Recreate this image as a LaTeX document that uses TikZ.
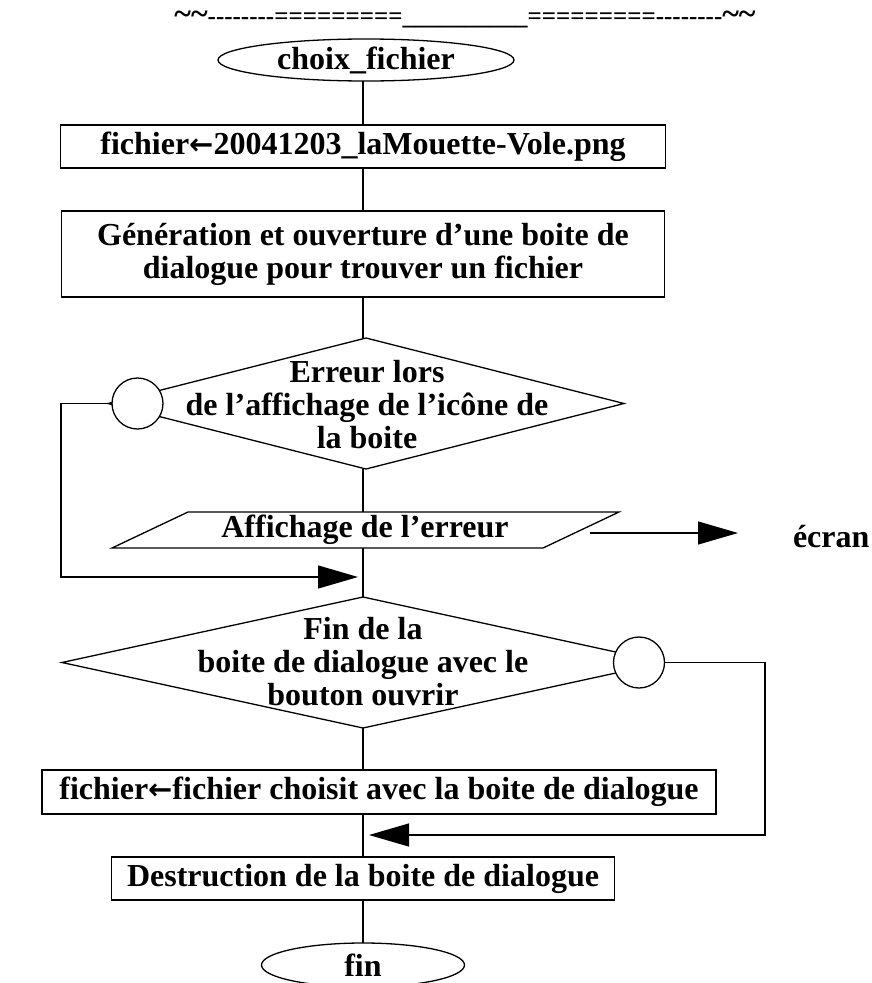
\documentclass[tikz,border=0pt]{standalone}
\usepackage{fontspec}
\setmainfont{Liberation Serif}
\newfontfamily\hdrfont{Liberation Serif}
\newfontfamily\arrfont{DejaVu Sans}
\usetikzlibrary{shapes.geometric,arrows.meta}
\newcommand\myarr{{\arrfont\bfseries\fontsize{29}{29}\selectfont ←}}
\newcommand\bigtilde{{\fontsize{32}{24}\selectfont\textasciitilde}}
\begin{document}
\begin{tikzpicture}[x=1pt,y=-1pt,
  every node/.style={font=\bfseries\fontsize{32}{33}\selectfont, inner sep=0pt, outer sep=0pt},
  ln/.style={line width=1.3pt},
  procbox/.style={draw, rectangle, line width=1.3pt, minimum height=43pt},
  term/.style={draw, ellipse, line width=1.3pt, minimum height=42pt},
  decis/.style={draw, diamond, line width=1.3pt},
  conn/.style={draw, circle, fill=white, line width=1.3pt, minimum size=51pt},
  arr/.style={line width=1.3pt, -{Triangle[length=40pt,width=23pt]}}
]
\useasboundingbox (0,0) rectangle (872,983);

% header
\node[font=\hdrfont\bfseries\fontsize{25}{25}\selectfont, anchor=base] (hdr) at (465,24)
  {\bigtilde\bigtilde-{}-{}-{}-{}-{}-{}-{}-{}=========\_\_\_\_\_\_\_\_\_\_=========-{}-{}-{}-{}-{}-{}-{}-{}\bigtilde\bigtilde};

% nodes
\node[term, minimum width=296pt] (choix) at (366,60) {choix\_fichier};
\node[procbox, minimum width=605pt] (b1) at (363,146.5) {fichier\myarr 20041203\_laMouette-Vole.png};
\node[procbox, minimum width=603pt, minimum height=86pt, align=center] (b2) at (363,254)
  {Génération et ouverture d’une boite de\\dialogue pour trouver un fichier};
\node[decis, minimum width=516pt, minimum height=131pt] (d1) at (366,403.5) {};
\node[align=center] (d1t) at (367,405) {Erreur lors\\de l’affichage de l’icône de\\la boite};
\node[conn] (c1) at (137.5,403.5) {};

% parallelogram (output)
\coordinate (pbl) at (112,548);
\coordinate (pbr) at (543,548);
\coordinate (ptr) at (619,512);
\coordinate (ptl) at (188,512);
\draw[ln] (pbl) -- (pbr) -- (ptr) -- (ptl) -- cycle;
\node (par) at (365,530) {Affichage de l’erreur};
\coordinate (ptop) at (363,512);
\coordinate (pbot) at (363,548);
\coordinate (pout) at (590,533);
\node[anchor=west] (ecran) at (793,537) {écran};

\node[decis, minimum width=602pt, minimum height=131pt] (d2) at (363,662.5) {};
\node[align=center] (d2t) at (363,662) {Fin de la\\boite de dialogue avec le\\bouton ouvrir};
\node[conn] (c2) at (639,662.5) {};

\node[procbox, minimum width=674pt, minimum height=44pt] (b3) at (379,792) {fichier\myarr fichier choisit avec la boite de dialogue};
\node[procbox, minimum width=503pt] (b4) at (363,878.5) {Destruction de la boite de dialogue};
\node[term, minimum width=203pt, minimum height=44pt] (fin) at (363,965) {fin};

% junction points on the main column
\coordinate (j1) at (363,577);
\coordinate (j2) at (363,835);
\coordinate (loopL) at (61,577);
\coordinate (loopR) at (765,835);

% main column connectors
\draw[ln] (b1.north |- choix.south) -- (b1.north);
\draw[ln] (b1.south) -- (b2.north);
\draw[ln] (b2.south) -- (b2.south |- d1.north);
\draw[ln] (ptop |- d1.south) -- (ptop);
\draw[ln] (pbot) -- (d2.north);
\draw[ln] (d2.south) -- (d2.south |- b3.north);
\draw[ln] (b4.north |- b3.south) -- (b4.north);
\draw[ln] (b4.south) -- (fin.north);

% loops and output
\draw[arr, shorten >=5pt] (c1.west) -| (loopL) -- (j1);
\draw[arr, shorten >=6pt] (c2.east) -| (loopR) -- (j2);
\draw[arr, shorten >=55pt] (pout) -- (ecran.west |- pout);
\end{tikzpicture}
\end{document}
